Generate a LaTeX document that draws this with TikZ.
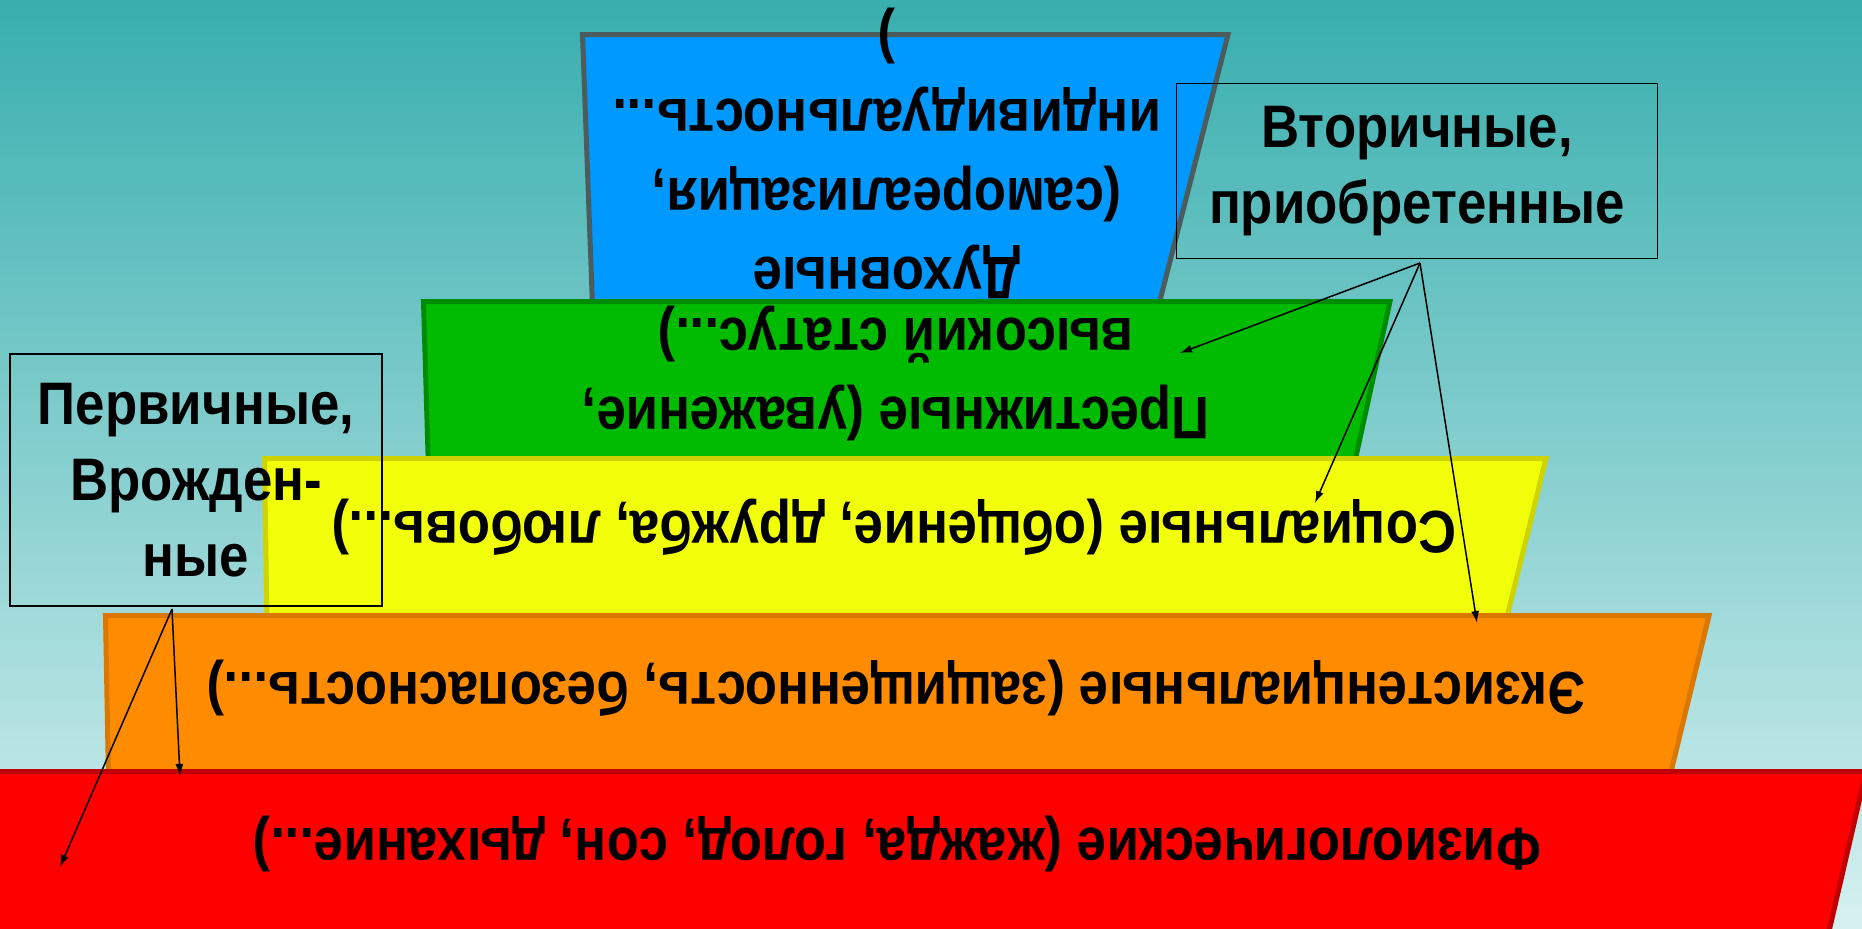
\documentclass[tikz,border=0pt]{standalone}
\usepackage{fontspec}
\setmainfont[FakeStretch=0.88]{Liberation Sans}
\usetikzlibrary{arrows.meta}

\definecolor{bgtop}{RGB}{56,174,174}
\definecolor{bgbot}{RGB}{214,240,240}
\definecolor{blueF}{RGB}{0,153,255}
\definecolor{blueB}{RGB}{76,92,92}
\definecolor{greenF}{RGB}{0,187,0}
\definecolor{greenB}{RGB}{0,140,0}
\definecolor{yellowF}{RGB}{242,255,10}
\definecolor{yellowB}{RGB}{205,212,0}
\definecolor{orangeF}{RGB}{255,140,0}
\definecolor{orangeB}{RGB}{217,119,0}
\definecolor{redF}{RGB}{255,0,0}
\definecolor{redB}{RGB}{192,0,0}

\begin{document}
\begin{tikzpicture}[x=0.5pt,y=-0.5pt,
  level/.style={line width=2.5pt,line join=miter},
  lvltext/.style={font=\fontsize{30}{39.5}\selectfont\bfseries,align=center,
    rotate=180,anchor=base,inner sep=0pt},
  kind/.style={draw,line width=0.9pt,font=\fontsize{30}{38}\selectfont\bfseries,
    align=center,inner sep=0pt},
  ptr/.style={-{Latex[length=6pt,width=4pt]},line width=0.75pt}]
\useasboundingbox (0,0) rectangle (1862,928);
\clip (0,0) rectangle (1862,928);
\shade[top color=bgtop,bottom color=bgbot] (0,0) rectangle (1862,928);

% pyramid levels, top to bottom
\filldraw[level,fill=blueF,draw=blueB] (582.5,34.5) -- (1228,34.5) -- (1155,320) -- (593,320) -- cycle;
\filldraw[level,fill=greenF,draw=greenB] (423.5,301.5) -- (1390,301.5) -- (1353,470) -- (428.5,470) -- cycle;
\filldraw[level,fill=yellowF,draw=yellowB] (264.5,458.5) -- (1546,458.5) -- (1505,625) -- (267,625) -- cycle;
\filldraw[level,fill=orangeF,draw=orangeB] (105.5,615.5) -- (1709,615.5) -- (1669,780) -- (108.5,780) -- cycle;
\filldraw[level,fill=redF,draw=redB] (-10,771.5) -- (1866,771.5) -- (1827,940) -- (-10,940) -- cycle;

% texts are turned upside down; base = last line
\node[lvltext] (spirit) at (887,20) {Духовные\\(самореализация,\\индивидуальность...\\)};
\node[lvltext] (prestige) at (896,318) {Престижные (уважение,\\высокий статус...)};
\node[lvltext] (social) at (894,511) {Социальные (общение, дружба, любовь...)};
\node[lvltext] (exist) at (896,672) {Экзистенциальные (защищенность, безопасность...)};
\node[lvltext] (physio) at (897,828) {Физиологические (жажда, голод, сон, дыхание...)};

% the two groups
\node[kind,minimum width=240.5pt,minimum height=87.5pt] (second) at (1417,171) {Вторичные,\\приобретенные};
\node[kind,minimum width=186pt,minimum height=126pt] (first) at (196,480) {Первичные,\\Врожден-\\ные};

\coordinate (second-o) at (1420,263);
\coordinate (to-prestige) at (1180,353);
\coordinate (to-social) at (1315,503);
\coordinate (to-exist) at (1477,623);
\coordinate (first-o) at (172,609);
\coordinate (to-physio) at (180,776);
\coordinate (to-low) at (60,867);

\foreach \e in {to-prestige,to-social,to-exist}
  \draw[ptr] (second-o) -- (\e);
\foreach \e in {to-physio,to-low}
  \draw[ptr] (first-o) -- (\e);
\end{tikzpicture}
\end{document}
